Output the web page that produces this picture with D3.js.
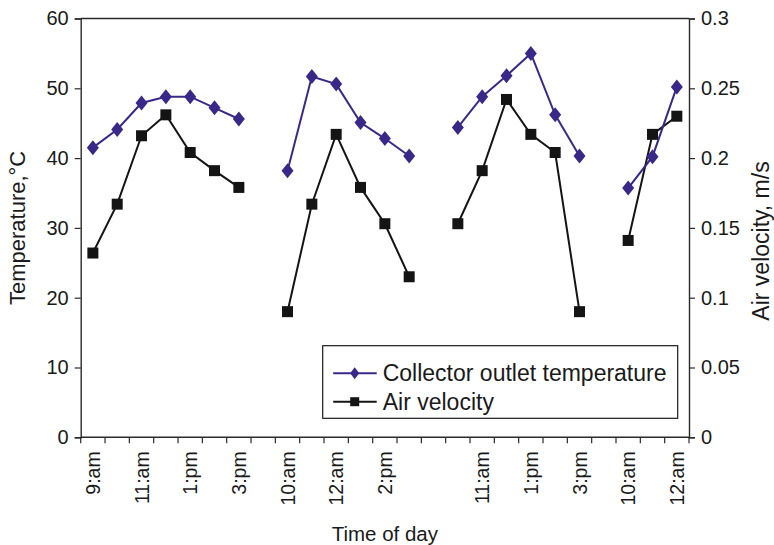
<!DOCTYPE html>
<html>
<head>
<meta charset="utf-8">
<script src="https://cdn.jsdelivr.net/npm/d3@7"></script>
<style>
  html, body { margin: 0; padding: 0; background: #fff; }
  svg { display: block; font-family: "Liberation Sans", Arial, Helvetica, sans-serif; }
</style>
</head>
<body>
<svg id="chart" width="774" height="545"></svg>
<script>
// Hour of each reading over four measurement days; blank entries separate the days
const timeLabels = [
  "9:am", "10:am", "11:am", "12:am", "1:pm", "2:pm", "3:pm", "",
  "10:am", "11:am", "12:am", "1:pm", "2:pm", "3:pm", "",
  "10:am", "11:am", "12:am", "1:pm", "2:pm", "3:pm", "",
  "10:am", "11:am", "12:am"
];

// Collector outlet temperature, °C
const outletTemp = [
  41.5, 44.1, 47.9, 48.8, 48.8, 47.2, 45.6, null,
  38.2, 51.7, 50.6, 45.1, 42.8, 40.3, null,
  44.4, 48.8, 51.8, 55.0, 46.2, 40.3, null,
  35.7, 40.2, 50.2
];

// Air velocity, m/s
const airVelocity = [
  0.132, 0.167, 0.216, 0.231, 0.204, 0.191, 0.179, null,
  0.090, 0.167, 0.217, 0.179, 0.153, 0.115, null,
  0.153, 0.191, 0.242, 0.217, 0.204, 0.090, null,
  0.141, 0.217, 0.230
];

const tempTicks = [0, 10, 20, 30, 40, 50, 60];
const velTicks = [0, 0.05, 0.1, 0.15, 0.2, 0.25, 0.3];

const seriesNames = ["Collector outlet temperature", "Air velocity"];
const tempColor = "#3a2889";
const velColor = "#141414";
const axisColor = "#2a2a2a";

const svg = d3.select("#chart");
const plot = { left: 80.7, right: 689, top: 18.5, bottom: 437.3 };

const x = d3.scaleBand()
  .domain(d3.range(timeLabels.length))
  .range([plot.left, plot.right])
  .paddingInner(0).paddingOuter(0);

const yT = d3.scaleLinear().domain([0, 60]).range([plot.bottom, plot.top]);
const yV = d3.scaleLinear().domain([0, 0.3]).range([plot.bottom, plot.top]);

// top border of the plot area
svg.append("line")
  .attr("x1", plot.left).attr("x2", plot.right)
  .attr("y1", plot.top).attr("y2", plot.top)
  .attr("stroke", axisColor).attr("stroke-width", 1.4);

// left axis: temperature
const leftAxis = svg.append("g")
  .attr("transform", `translate(${plot.left},0)`)
  .call(d3.axisLeft(yT).tickValues(tempTicks).tickSize(6).tickPadding(6).tickFormat(d3.format("d")));

// right axis: air velocity
const rightAxis = svg.append("g")
  .attr("transform", `translate(${plot.right},0)`)
  .call(d3.axisRight(yV).tickValues(velTicks).tickSize(6).tickPadding(6).tickFormat(d => d === 0 ? "0" : String(+d.toFixed(2))));

// bottom axis: ticks on category boundaries, labels on every other category
const bottomAxis = svg.append("g")
  .attr("transform", `translate(0,${plot.bottom})`);
bottomAxis.append("line")
  .attr("x1", plot.left).attr("x2", plot.right)
  .attr("stroke", axisColor).attr("stroke-width", 1.4);
bottomAxis.selectAll("line.tick")
  .data(d3.range(timeLabels.length + 1))
  .join("line")
  .attr("class", "tick")
  .attr("x1", i => plot.left + i * x.step())
  .attr("x2", i => plot.left + i * x.step())
  .attr("y1", 0).attr("y2", 6)
  .attr("stroke", axisColor).attr("stroke-width", 1.2);
bottomAxis.selectAll("text")
  .data(d3.range(timeLabels.length).filter(i => i % 2 === 0))
  .join("text")
  .attr("transform", i => `translate(${x(i) + x.bandwidth() / 2},14) rotate(-90)`)
  .attr("text-anchor", "end")
  .attr("dy", "0.36em")
  .attr("font-size", 19.5)
  .attr("fill", "#1a1a1a")
  .text(i => timeLabels[i]);

[leftAxis, rightAxis].forEach(g => {
  g.select(".domain").attr("stroke", axisColor).attr("stroke-width", 1.4);
  g.selectAll(".tick line").attr("stroke", axisColor).attr("stroke-width", 1.2);
  g.selectAll(".tick text").attr("font-size", 20).attr("fill", "#1a1a1a")
    .attr("font-family", "\"Liberation Sans\", Arial, sans-serif");
});

// axis titles
svg.append("text")
  .attr("transform", `translate(25,${(plot.top + plot.bottom) / 2}) rotate(-90)`)
  .attr("text-anchor", "middle")
  .attr("font-size", 22)
  .attr("fill", "#1a1a1a")
  .text("Temperature,°C");

svg.append("text")
  .attr("transform", `translate(769,241) rotate(-90)`)
  .attr("text-anchor", "middle")
  .attr("font-size", 23)
  .attr("fill", "#1a1a1a")
  .text("Air velocity, m/s");

svg.append("text")
  .attr("x", (plot.left + plot.right) / 2)
  .attr("y", 541)
  .attr("text-anchor", "middle")
  .attr("font-size", 20.5)
  .attr("fill", "#1a1a1a")
  .text("Time of day");

const cx = i => x(i) + x.bandwidth() / 2;

// diamond and square marker shapes
const diamond = (w, h) => `M0,${-h / 2}L${w / 2},0L0,${h / 2}L${-w / 2},0Z`;
const square = s => `M${-s / 2},${-s / 2}h${s}v${s}h${-s}Z`;

// air velocity series
const velLine = d3.line()
  .defined(d => d != null)
  .x((d, i) => cx(i))
  .y(d => yV(d));
svg.append("path")
  .datum(airVelocity)
  .attr("d", velLine)
  .attr("fill", "none")
  .attr("stroke", velColor)
  .attr("stroke-width", 2);
svg.append("g").selectAll("path")
  .data(airVelocity.map((v, i) => ({ v, i })).filter(d => d.v != null))
  .join("path")
  .attr("transform", d => `translate(${cx(d.i)},${yV(d.v)})`)
  .attr("d", square(11))
  .attr("fill", velColor);

// collector outlet temperature series
const tempLine = d3.line()
  .defined(d => d != null)
  .x((d, i) => cx(i))
  .y(d => yT(d));
svg.append("path")
  .datum(outletTemp)
  .attr("d", tempLine)
  .attr("fill", "none")
  .attr("stroke", tempColor)
  .attr("stroke-width", 2);
svg.append("g").selectAll("path")
  .data(outletTemp.map((v, i) => ({ v, i })).filter(d => d.v != null))
  .join("path")
  .attr("transform", d => `translate(${cx(d.i)},${yT(d.v)})`)
  .attr("d", diamond(12, 15))
  .attr("fill", tempColor);

// legend
const legend = svg.append("g").attr("transform", "translate(322.7,345.7)");
legend.append("rect")
  .attr("width", 355).attr("height", 72.6)
  .attr("fill", "#fff")
  .attr("stroke", "#1a1a1a").attr("stroke-width", 1.2);

const legendRows = [
  { name: seriesNames[0], color: tempColor, shape: diamond(9, 12), y: 27.6 },
  { name: seriesNames[1], color: velColor, shape: square(9), y: 56 }
];
const rows = legend.selectAll("g.row")
  .data(legendRows)
  .join("g")
  .attr("class", "row")
  .attr("transform", d => `translate(0,${d.y})`);
rows.append("line")
  .attr("x1", 10.5).attr("x2", 54)
  .attr("stroke", d => d.color).attr("stroke-width", 2);
rows.append("path")
  .attr("transform", "translate(32,0)")
  .attr("d", d => d.shape)
  .attr("fill", d => d.color);
rows.append("text")
  .attr("x", 60)
  .attr("y", 8)
  .attr("font-size", 23)
  .attr("fill", "#1a1a1a")
  .text(d => d.name);
</script>
</body>
</html>
